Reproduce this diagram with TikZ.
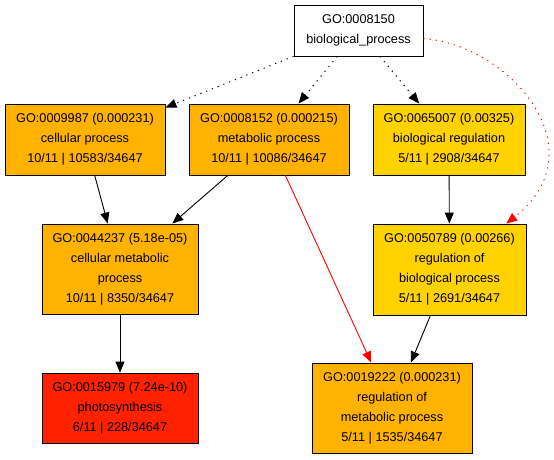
\documentclass[tikz,border=0pt]{standalone}
\usepackage{fontspec}
\setmainfont{Liberation Sans}
\usepackage{tikz}
\usetikzlibrary{arrows.meta}
\definecolor{goorange}{HTML}{FFB300}
\definecolor{gogold}{HTML}{FFD200}
\definecolor{gored}{HTML}{FF2200}
\tikzstyle{term} = [draw=black, line width=0.9pt, inner sep=0pt, align=center, font=\fontsize{12.7}{20}\selectfont]
\tikzstyle{arrow} = [line width=0.9pt, -{Triangle[length=11pt,width=9pt]}]
\tikzstyle{dotarrow} = [arrow, line width=1pt, dash pattern=on 1.2pt off 5pt]

\begin{document}
\begin{tikzpicture}[x=1pt, y=-1pt]
\useasboundingbox (0,0) rectangle (554,459);

% GO terms
\node[term, fill=white, minimum width=129pt, minimum height=51pt] (bioproc) at (358.5,30.5) {GO:0008150\\biological\_process};
\node[term, fill=goorange, minimum width=160pt, minimum height=71pt] (cellproc) at (85,139.5) {GO:0009987 (0.000231)\\cellular process\\10/11 | 10583/34647};
\node[term, fill=goorange, minimum width=160pt, minimum height=71pt] (metaproc) at (269,139.5) {GO:0008152 (0.000215)\\metabolic process\\10/11 | 10086/34647};
\node[term, fill=gogold, minimum width=152pt, minimum height=71pt] (bioreg) at (449,139.5) {GO:0065007 (0.00325)\\biological regulation\\5/11 | 2908/34647};
\node[term, fill=goorange, minimum width=156pt, minimum height=90pt] (cellmeta) at (120,269) {GO:0044237 (5.18e-05)\\cellular metabolic\\process\\10/11 | 8350/34647};
\node[term, fill=gogold, minimum width=153pt, minimum height=91pt] (regbio) at (449.5,269.5) {GO:0050789 (0.00266)\\regulation of\\biological process\\5/11 | 2691/34647};
\node[term, fill=gored, minimum width=156pt, minimum height=70pt] (photo) at (120,408) {GO:0015979 (7.24e-10)\\photosynthesis\\6/11 | 228/34647};
\node[term, fill=goorange, minimum width=160pt, minimum height=90pt] (regmeta) at (392,408) {GO:0019222 (0.000231)\\regulation of\\metabolic process\\5/11 | 1535/34647};

% dotted links from the root
\draw[dotarrow] (bioproc) -- (cellproc);
\draw[dotarrow] (bioproc) -- (metaproc);
\draw[dotarrow] (bioproc) -- (bioreg);
\draw[dotarrow, red] (bioproc.-7) .. controls (510,45) and (600,150) .. (regbio.39); % red curve

% solid links
\draw[arrow] (cellproc) -- (cellmeta);
\draw[arrow] (metaproc) -- (cellmeta);
\draw[arrow, red] (metaproc) -- (regmeta);
\draw[arrow] (bioreg) -- (regbio);
\draw[arrow] (regbio) -- (regmeta);
\draw[arrow] (cellmeta) -- (photo);

\end{tikzpicture}
\end{document}
